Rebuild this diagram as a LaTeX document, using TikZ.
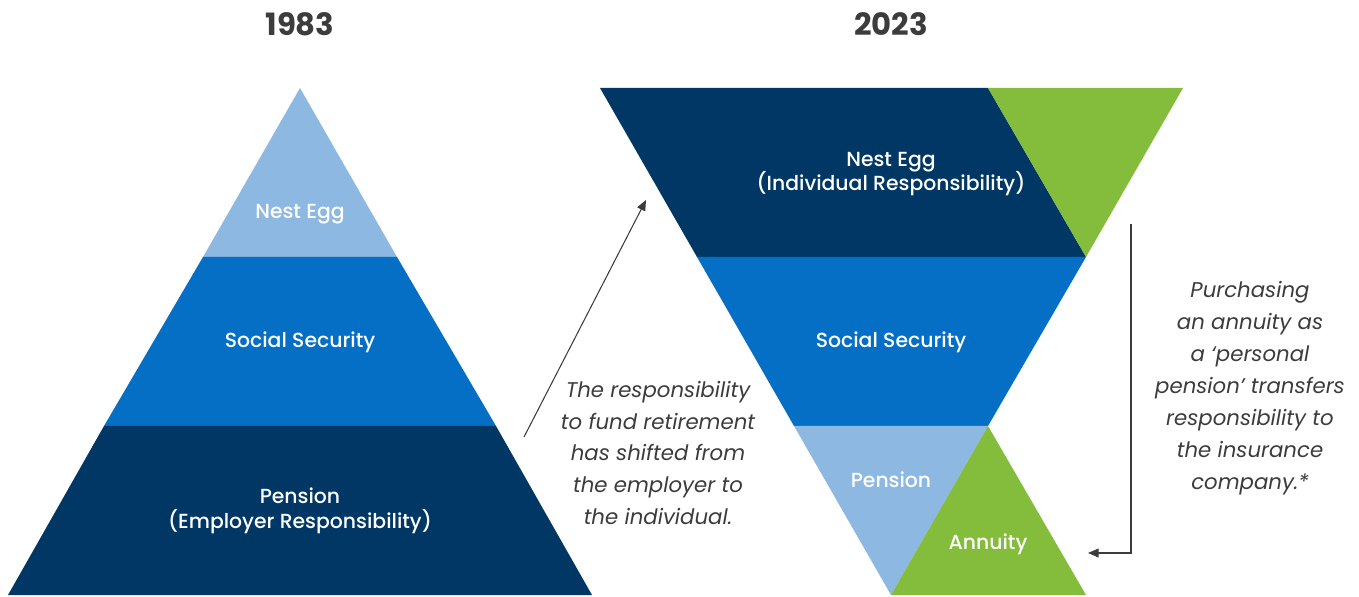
\documentclass[tikz,border=0pt]{standalone}
\usepackage{fontspec}
\setmainfont{Poppins}
\newfontfamily\medfont{Poppins Medium}
\usetikzlibrary{arrows.meta}
\definecolor{navy}{HTML}{003764}
\definecolor{midblue}{HTML}{056FC5}
\definecolor{lightblue}{HTML}{8DB8E2}
\definecolor{leaf}{HTML}{84BC3C}
\definecolor{ink}{HTML}{3C3C3C}
\tikzset{
  label/.style={text=white, font=\medfont\fontsize{11.6}{14}\selectfont, align=center},
  note/.style={text=ink, font=\fontsize{12.1}{18.2}\selectfont\itshape, align=center},
  year/.style={text=ink, font=\fontsize{17.5}{22}\selectfont\bfseries},
  pointer/.style={draw=ink, line width=0.6pt, -{Triangle[length=6pt,width=5pt]}}
}
\begin{document}
\begin{tikzpicture}[x=0.02cm, y=-0.02cm]
            \useasboundingbox (0,0) rectangle (1359,597);

            % 1983 pyramid
            \coordinate (la) at (300,88);
            \coordinate (l1) at (203,257);
            \coordinate (r1) at (397,257);
            \coordinate (l2) at (104,426);
            \coordinate (r2) at (496,426);
            \coordinate (l3) at (8,595);
            \coordinate (r3) at (592,595);
            \fill[lightblue] (la) -- (r1) -- (l1) -- cycle;
            \fill[midblue] (l1) -- (r1) -- (r2) -- (l2) -- cycle;
            \fill[navy] (l2) -- (r2) -- (r3) -- (l3) -- cycle;

            % 2023 funnel
            \coordinate (tl) at (600,88);
            \coordinate (tm) at (988,88);
            \coordinate (tr) at (1183,88);
            \coordinate (ml) at (697,257);
            \coordinate (mr) at (1086,257);
            \coordinate (bl) at (794,426);
            \coordinate (br) at (988,426);
            \coordinate (ba) at (891,595);
            \coordinate (bg) at (1086,595);
            \fill[navy] (tl) -- (tm) -- (mr) -- (ml) -- cycle;
            \fill[leaf] (tm) -- (tr) -- (mr) -- cycle;
            \fill[midblue] (ml) -- (mr) -- (br) -- (bl) -- cycle;
            \fill[lightblue] (bl) -- (br) -- (ba) -- cycle;
            \fill[leaf] (br) -- (bg) -- (ba) -- cycle;

            \node[year] (y1983) at (300,24) {1983};
            \node[year] (y2023) at (891,24) {2023};

            \begin{scope}[every node/.style={label}]
                \node (egg1) at (300,214) {Nest Egg};
                \node (ss1) at (300,342) {Social Security};
                \node (pen1) at (300,511) {Pension\\(Employer Responsibility)};
                \node (egg2) at (891,174) {Nest Egg\\(Individual Responsibility)};
                \node (ss2) at (891,342) {Social Security};
                \node (pen2) at (891,480) {Pension};
                \node (ann) at (988,544) {Annuity};
            \end{scope}

            \node[note] (shift) at (658,453) {The responsibility\\to fund retirement\\has shifted from\\the employer to\\the individual.};
            \node[note] (buy) at (1250,388) {Purchasing\\an annuity as\\a ‘personal\\pension’ transfers\\responsibility to\\the insurance\\company.*};

            \coordinate (from) at (524,437);
            \coordinate (to) at (646,200);
            \coordinate (down) at (1131,224);
            \coordinate (bend) at (1131,553);
            \coordinate (back) at (1088,553);
            \draw[pointer] (from) -- (to);
            \draw[pointer] (down) -- (bend) -- (back);

        \end{tikzpicture}
\end{document}
